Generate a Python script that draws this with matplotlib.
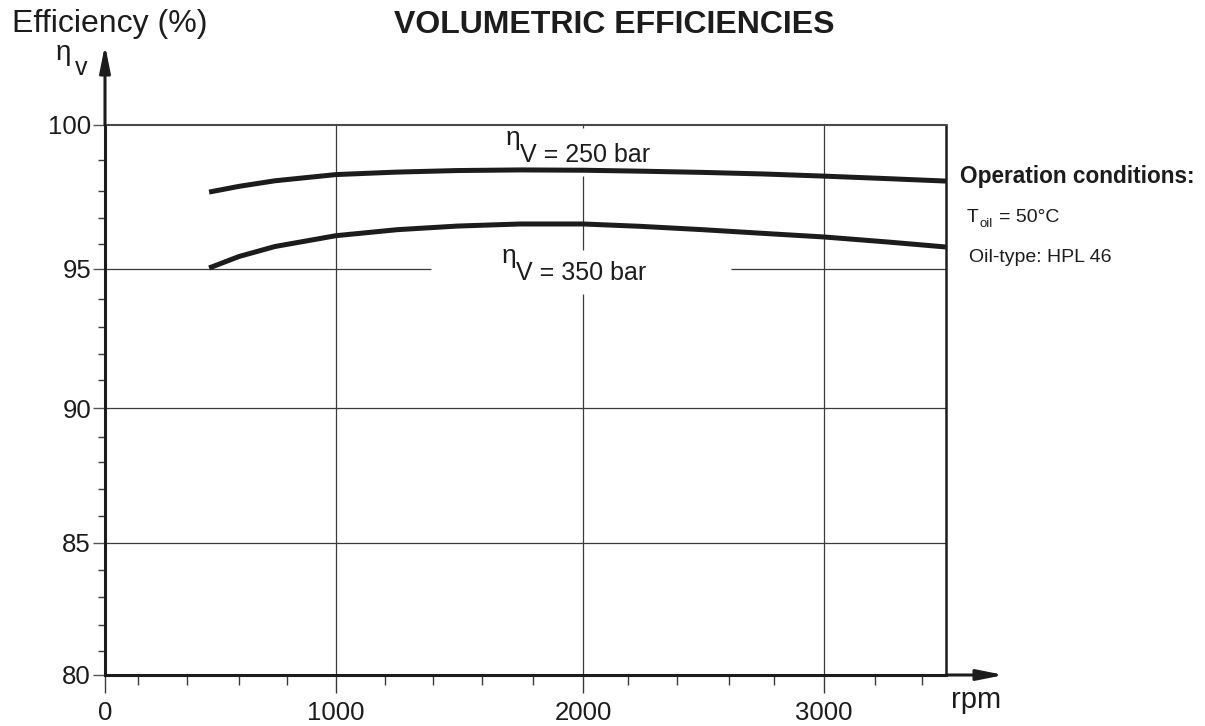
import numpy as np
import matplotlib
matplotlib.use("Agg")
import matplotlib.pyplot as plt
from matplotlib.ticker import FixedLocator, NullFormatter

plt.rcParams['font.family'] = ['Liberation Sans', 'DejaVu Sans']

# ---- axis calibration of the printed chart (value -> distance along axis) ----
RPM_KNOTS = [0, 200, 400, 600, 800, 1000, 1200, 1400, 1600, 1800, 2000,
             2200, 2400, 2600, 2800, 3000, 3200, 3400, 3500]
RPM_POS = [0, 33, 82, 134, 182, 231, 280, 328, 377, 428, 478,
           523, 572, 624, 669, 719, 770, 817, 841]
EFF_KNOTS = [80, 81, 82, 83, 84, 85, 86, 87, 88, 89, 90,
             91, 92, 93, 94, 95, 96, 97, 98, 99, 100]
EFF_POS = [0, 24, 50, 78, 105, 132, 159, 186, 213, 238, 267,
           295, 321, 348, 376, 406, 431, 457, 484, 515, 550]

# ---- data ----
rpm = [485, 600, 750, 1000, 1250, 1500, 1750, 2000, 2250, 2500, 2750, 3000, 3250, 3500]
eff_250 = [97.96, 98.15, 98.33, 98.53, 98.61, 98.66, 98.68, 98.67, 98.64, 98.60,
           98.55, 98.48, 98.40, 98.32]
eff_350 = [95.04, 95.50, 95.90, 96.32, 96.55, 96.69, 96.77, 96.77, 96.68, 96.55,
           96.41, 96.27, 96.08, 95.88]

x_major = [0, 1000, 2000, 3000]
x_minor = [200, 400, 600, 800, 1200, 1400, 1600, 1800, 2200, 2400, 2600, 2800, 3200, 3400]
y_major = [80, 85, 90, 95, 100]
y_minor = [v for v in range(80, 101) if v % 5]

INK = '#1c1c1c'
GRID = '#3a3a3a'

W, H = 1205, 726
fig = plt.figure(figsize=(W / 100, H / 100), dpi=100)
ax = fig.add_axes([105 / W, (H - 675) / H, 841 / W, 550 / H])


def fwd_x(v):
    return np.interp(v, RPM_KNOTS, RPM_POS)


def inv_x(p):
    return np.interp(p, RPM_POS, RPM_KNOTS)


def fwd_y(v):
    return np.interp(v, EFF_KNOTS, EFF_POS)


def inv_y(p):
    return np.interp(p, EFF_POS, EFF_KNOTS)


ax.set_xscale('function', functions=(fwd_x, inv_x))
ax.set_yscale('function', functions=(fwd_y, inv_y))
ax.set_xlim(0, 3500)
ax.set_ylim(80, 100)

# ticks
ax.xaxis.set_major_locator(FixedLocator(x_major))
ax.xaxis.set_minor_locator(FixedLocator(x_minor))
ax.yaxis.set_major_locator(FixedLocator(y_major))
ax.yaxis.set_minor_locator(FixedLocator(y_minor))
ax.xaxis.set_minor_formatter(NullFormatter())
ax.yaxis.set_minor_formatter(NullFormatter())
ax.set_xticklabels([str(v) for v in x_major])
ax.set_yticklabels([str(v) for v in y_major])
ax.tick_params(axis='x', which='major', length=13, width=1.0, color=GRID,
               pad=5.5, labelsize=18.5, labelcolor=INK)
ax.tick_params(axis='x', which='minor', length=7, width=1.0, color=GRID)
ax.tick_params(axis='y', which='major', length=8.5, width=1.0, color='#555555',
               pad=1.5, labelsize=18.5, labelcolor=INK)
ax.tick_params(axis='y', which='minor', length=5, width=1.0, color=GRID)

# spines
for side in ('left', 'bottom'):
    ax.spines[side].set_linewidth(2.2)
    ax.spines[side].set_color(INK)
ax.spines['top'].set_linewidth(1.5)
ax.spines['top'].set_color('#4a4a4a')
ax.spines['right'].set_linewidth(1.8)
ax.spines['right'].set_color(INK)

# grid lines (broken behind the curve labels)
gkw = dict(colors=GRID, linewidth=0.9, zorder=1)
ax.vlines([1000, 3000], 80, 100, **gkw)
ax.vlines([2000, 2000, 2000], [80, 95.78, 99.9], [94.17, 98.5, 100], **gkw)
ax.hlines([85, 90], 0, 3500, **gkw)
ax.hlines([95, 95], [0, 2610], [1390, 3500], **gkw)

# curves
for series in (eff_250, eff_350):
    ax.plot(rpm, series, color=INK, linewidth=3.6, solid_capstyle='butt',
            solid_joinstyle='round', zorder=3)

# curve labels
for x0, y0, txt in [(1749, 98.94, 'V = 250 bar'), (1733, 94.63, 'V = 350 bar')]:
    ax.text(x0, y0, txt, fontsize=18, color=INK, ha='left', va='baseline', zorder=4)
    ax.annotate('η', xy=(x0, y0), xytext=(-5, 12.2), textcoords='offset points',
                fontsize=19, color=INK, ha='center', va='baseline', zorder=4)

# axis arrows
akw = dict(arrowstyle='-|>,head_length=1.0,head_width=0.2', color=INK,
           lw=2.2, mutation_scale=16, shrinkA=0, shrinkB=0)
ax.annotate('', xy=(0, 1 + 80 / 550), xytext=(0, 1), xycoords='axes fraction',
            textcoords='axes fraction', arrowprops=akw, annotation_clip=False)
ax.annotate('', xy=(1 + 58 / 841, 0), xytext=(1, 0), xycoords='axes fraction',
            textcoords='axes fraction', arrowprops=akw, annotation_clip=False)


def ftext(px, py, s, **kw):
    fig.text(px / W, 1 - py / H, s, color=INK, va='baseline', **kw)


ftext(12, 32, 'Efficiency (%)', fontsize=23, ha='left')
ftext(614, 33, 'VOLUMETRIC EFFICIENCIES', fontsize=23, fontweight='bold', ha='center')
ftext(63, 60, 'η', fontsize=20, ha='center')
ftext(81, 75, 'v', fontsize=18, ha='center')
ftext(951, 708, 'rpm', fontsize=21, ha='left')

ftext(960, 183, 'Operation conditions:', fontsize=16.3, fontweight='bold', ha='left')
ftext(967, 222, 'T', fontsize=14, ha='left')
ftext(980, 227, 'oil', fontsize=9.5, ha='left')
ftext(999, 222, '= 50°C', fontsize=14, ha='left')
ftext(969, 262, 'Oil-type: HPL 46', fontsize=14, ha='left')

fig.savefig('out.png', dpi=100)
